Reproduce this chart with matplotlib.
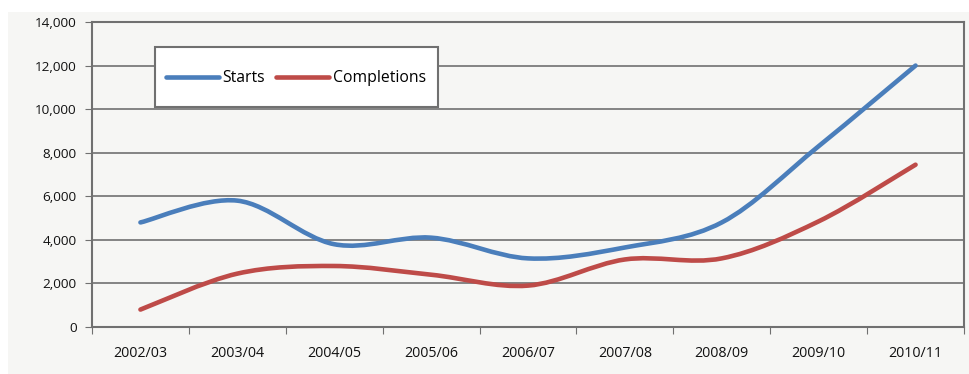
import matplotlib.pyplot as plt
import numpy as np
from matplotlib.path import Path
from matplotlib.patches import PathPatch, Rectangle
from matplotlib.lines import Line2D
from matplotlib.ticker import FuncFormatter

# data
years = ['2002/03', '2003/04', '2004/05', '2005/06', '2006/07',
         '2007/08', '2008/09', '2009/10', '2010/11']
starts = [4800, 5800, 3800, 4100, 3150, 3650, 4800, 8300, 12000]
completions = [800, 2450, 2800, 2400, 1900, 3100, 3150, 4850, 7450]

blue = '#4a7ebb'
red = '#be4b48'
grey_bg = '#f6f6f4'
line_grey = '#707070'


def smooth_path(x, y):
    # excel style smoothed line: bezier segments through every point
    pts = np.column_stack([x, y]).astype(float)
    n = len(pts)
    verts = [pts[0]]
    codes = [Path.MOVETO]
    for i in range(n - 1):
        p0 = pts[i - 1] if i > 0 else pts[i]
        p1 = pts[i]
        p2 = pts[i + 1]
        p3 = pts[i + 2] if i + 2 < n else pts[i + 1]
        c1 = p1 + (p2 - p0) / 6.0
        c2 = p2 - (p3 - p1) / 6.0
        verts += [c1, c2, p2]
        codes += [Path.CURVE4] * 3
    return Path(verts, codes)


W, H = 969, 374
fig = plt.figure(figsize=(W / 100, H / 100), dpi=100, facecolor='white')
bg = Rectangle((8 / W, 0), 1, 1 - 12 / H, transform=fig.transFigure,
               facecolor=grey_bg, edgecolor='none')
fig.add_artist(bg)
bg.set_zorder(-10)

ax = fig.add_axes([92 / W, 47 / H, 872 / W, 305 / H])
ax.set_facecolor(grey_bg)

xs = np.arange(len(years)) + 0.5
for vals, col in [(starts, blue), (completions, red)]:
    ax.add_patch(PathPatch(smooth_path(xs, vals), facecolor='none',
                           edgecolor=col, lw=3.3, capstyle='round',
                           joinstyle='round', zorder=3))

ax.set_xlim(0, len(years))
ax.set_ylim(0, 14000)
ax.set_yticks(range(0, 14001, 2000))
ax.yaxis.set_major_formatter(FuncFormatter(lambda v, p: f'{int(v):,}'))
ax.set_xticks(range(0, len(years) + 1))
ax.set_xticklabels([])
ax.set_xticks(xs, minor=True)
ax.set_xticklabels(years, minor=True)
ax.tick_params(axis='x', which='minor', length=0, pad=14)
ax.tick_params(axis='x', which='major', length=5, color=line_grey)
ax.tick_params(axis='y', length=5, color=line_grey, pad=6)
for lab in ax.get_xticklabels(minor=True):
    lab.set_fontfamily('Open Sans')
    lab.set_fontsize(10.3)
    lab.set_color('#111111')
for lab in ax.get_yticklabels():
    lab.set_fontfamily('Open Sans')
    lab.set_fontsize(9.7)
    lab.set_color('#111111')

ax.grid(axis='y', color=line_grey, lw=1.2, zorder=1)
ax.set_axisbelow(True)
for s in ax.spines.values():
    s.set_color(line_grey)
    s.set_linewidth(1.5)

# legend box drawn by hand, legend entries placed inside it
box = Rectangle((155 / W, 1 - 107 / H), 283 / W, 60 / H,
                transform=fig.transFigure, facecolor='white',
                edgecolor=line_grey, lw=1.5, zorder=4)
fig.add_artist(box)
handles = [Line2D([], [], color=blue, lw=3.3, solid_capstyle='round'),
           Line2D([], [], color=red, lw=3.3, solid_capstyle='round')]
leg = fig.legend(handles, ['Starts', 'Completions'], ncol=2,
                 loc='center left', bbox_to_anchor=(166 / W, 1 - 78 / H),
                 frameon=False, handlelength=3.4, handletextpad=0.2,
                 columnspacing=0.7, borderpad=0, borderaxespad=0,
                 prop={'family': 'Open Sans', 'size': 11.3})
leg.set_zorder(5)

fig.savefig('out.png', dpi=100, facecolor='white')
